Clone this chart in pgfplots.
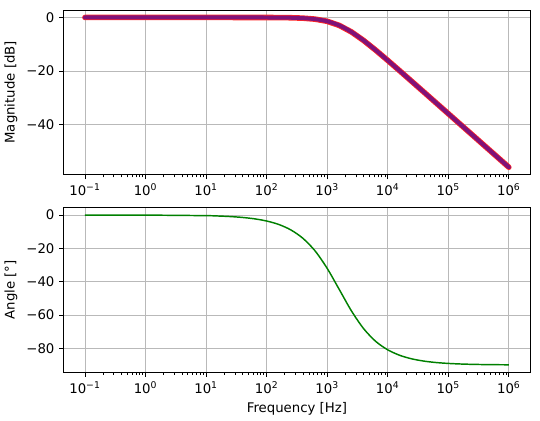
\documentclass[border=0pt]{standalone}
\usepackage{pgfplots}
\pgfplotsset{compat=1.18}
\usepackage{fontspec}
\setmainfont{DejaVu Sans}

\pgfplotstableread{
f        mag      ph
0.1      0        0
1        0        -0.036
10       -0.0002  -0.36
15.85    -0.0004  -0.57
25.12    -0.0011  -0.90
39.81    -0.0027  -1.43
63.10    -0.0067  -2.26
100      -0.017   -3.58
158.5    -0.042   -5.64
251.2    -0.106   -8.92
398.1    -0.261   -13.98
631.0    -0.626   -21.5
1000     -1.432   -32.0
1585     -2.970   -44.7
2512     -5.397   -57.5
3981     -8.567   -68.1
6310     -12.19   -75.8
10000    -16.03   -80.9
15849    -19.96   -84.24
25119    -23.94   -86.36
39811    -27.92   -87.70
63096    -31.92   -88.55
100000   -35.92   -89.08
158489   -39.92   -89.42
251189   -43.92   -89.64
398107   -47.92   -89.77
630957   -51.92   -89.85
1000000  -55.92   -89.91
}\bode

\begin{document}
\begin{tikzpicture}
\begin{axis}[name=magax,
  xmode=log, scale only axis, width=351pt, height=124pt,
  xmin=0.0447, xmax=2.24e6,
  axis line style={line width=0.6pt},
  tick align=outside, tick pos=left,
  major tick length=3.5pt, minor tick length=2pt,
  tick style={black, line width=0.6pt},
  grid=major, major grid style={gray!55, line width=0.6pt},
  xtick={0.1,1,10,100,1000,10000,100000,1000000},
  xticklabels={10\textsuperscript{−1},10\textsuperscript{0},10\textsuperscript{1},10\textsuperscript{2},10\textsuperscript{3},10\textsuperscript{4},10\textsuperscript{5},10\textsuperscript{6}},
  ymin=-58.7, ymax=2.8,
  ytick={-40,-20,0}, yticklabels={−40,−20,0},
  ylabel={Magnitude [dB]},
]
\addplot[red!85!white, line width=4.2pt, line cap=round] table[x=f, y=mag] {\bode};
\addplot[blue!80!black, opacity=0.5, line width=3pt, line cap=round, smooth] table[x=f, y=mag] {\bode};
\end{axis}
\begin{axis}[name=angax, at={(magax.south west)}, anchor=north west, yshift=-24.75pt,
  xmode=log, scale only axis, width=351pt, height=124pt,
  xmin=0.0447, xmax=2.24e6,
  axis line style={line width=0.6pt},
  tick align=outside, tick pos=left,
  major tick length=3.5pt, minor tick length=2pt,
  tick style={black, line width=0.6pt},
  grid=major, major grid style={gray!55, line width=0.6pt},
  xtick={0.1,1,10,100,1000,10000,100000,1000000},
  xticklabels={10\textsuperscript{−1},10\textsuperscript{0},10\textsuperscript{1},10\textsuperscript{2},10\textsuperscript{3},10\textsuperscript{4},10\textsuperscript{5},10\textsuperscript{6}},
  ymin=-94.4, ymax=4.5,
  ytick={-80,-60,-40,-20,0}, yticklabels={−80,−60,−40,−20,0},
  ylabel={Angle [°]},
  xlabel={Frequency [Hz]},
]
\addplot[green!50!black, line width=1.1pt, smooth] table[x=f, y=ph] {\bode};
\end{axis}
% white margins as in the reference
\path ([shift={(-46.5pt,7.5pt)}]magax.north west) rectangle ([shift={(7.5pt,-36pt)}]angax.south east);
\end{tikzpicture}
\end{document}
